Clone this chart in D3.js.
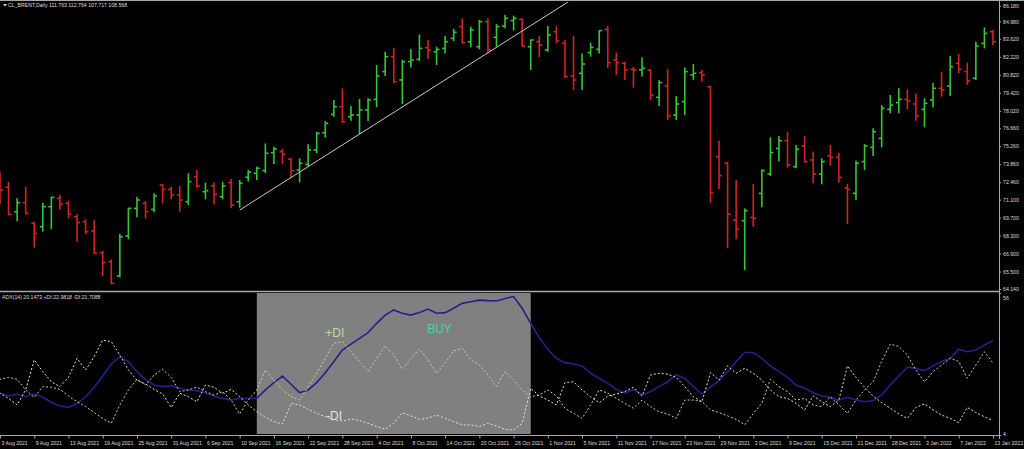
<!DOCTYPE html>
<html><head><meta charset="utf-8">
<script src="https://cdn.jsdelivr.net/npm/d3@7/dist/d3.min.js"></script>
<style>
html,body{margin:0;padding:0;background:#000;overflow:hidden;}
svg{display:block;}
text{font-family:"Liberation Sans",Arial,sans-serif;}
</style></head><body>
<svg id="c" width="1024" height="449"></svg>
<script>
// ---- data ----
const opens=[73.50,72.89,72.06,70.16,70.86,69.25,68.99,70.55,71.20,70.81,
69.77,69.38,68.66,66.97,66.27,65.15,68.27,70.42,70.81,70.34,
72.24,71.90,71.46,70.94,72.89,71.72,72.16,71.33,72.42,70.94,
72.84,73.15,73.36,74.76,74.83,74.24,73.41,73.85,74.96,76.31,
77.74,78.34,77.56,77.69,78.08,78.91,81.07,82.23,80.42,81.84,
82.03,82.93,82.62,82.88,83.66,84.57,83.40,83.01,84.96,83.74,
84.62,85.04,85.14,83.01,83.40,82.75,84.18,83.27,80.75,80.94,
82.55,82.80,84.36,81.97,81.71,81.25,81.20,81.20,79.07,79.95,
77.69,78.73,80.81,80.99,79.90,74.45,73.93,69.51,69.46,69.72,
71.59,73.10,75.09,75.69,73.67,75.28,74.19,73.10,74.50,74.40,
72.00,71.59,74.06,75.17,75.87,78.13,78.65,78.91,78.55,78.13,
78.86,79.77,79.95,81.71,81.07,80.55,83.27,84.18];
const highs=[73.90,73.28,72.50,71.20,72.11,69.38,70.86,71.33,71.46,71.02,
69.98,69.57,69.51,67.10,66.45,68.42,70.47,71.33,70.99,71.59,
72.32,72.11,72.16,73.15,73.41,72.42,72.45,72.50,72.71,72.63,
73.41,73.67,75.48,75.22,75.04,74.37,74.32,75.41,76.39,77.22,
78.86,79.77,78.39,78.94,78.99,81.58,82.62,82.93,81.97,82.83,
83.97,83.53,83.01,83.84,84.39,85.22,84.57,85.09,85.22,84.78,
85.48,85.43,85.22,83.58,83.84,84.62,84.62,83.53,83.84,82.49,
83.33,84.31,84.62,82.55,81.84,81.45,82.16,81.25,80.42,81.25,
79.17,81.40,81.66,81.20,79.95,75.69,74.06,72.63,70.42,72.32,
73.46,75.95,76.06,76.39,75.35,76.06,74.84,74.32,75.35,74.76,
72.32,74.13,75.43,76.65,78.47,79.25,79.77,79.69,79.38,78.99,
80.21,81.07,82.29,82.44,81.77,83.40,84.52,84.31];
const lows=[72.60,70.76,69.90,69.44,69.95,67.36,68.60,68.79,70.34,69.64,
67.83,68.42,66.86,65.15,64.50,65.05,68.03,69.72,69.62,70.11,
70.81,71.12,70.16,70.68,72.03,71.12,70.73,71.12,70.42,70.47,
72.50,72.63,73.15,73.87,73.87,72.76,72.45,73.67,74.71,75.93,
77.56,77.09,77.25,76.21,77.22,78.29,80.73,80.16,78.55,81.40,
81.90,82.05,81.58,82.49,83.45,83.27,82.96,82.80,82.49,83.01,
84.44,84.26,83.01,81.20,82.18,82.62,83.27,80.55,79.64,79.64,
82.23,82.49,81.33,80.81,80.42,79.82,80.68,78.86,78.39,77.30,
77.30,77.69,80.42,80.29,70.86,71.93,67.31,68.01,65.62,68.99,
70.50,72.94,74.06,73.59,73.54,73.98,72.37,72.29,73.75,72.42,
69.20,71.07,73.41,74.50,75.17,77.82,77.82,78.13,77.25,76.73,
78.29,79.12,79.17,80.94,80.03,80.42,82.88,83.14];
const closes=[73.00,71.85,69.95,70.86,70.03,68.47,70.55,71.28,70.76,69.98,
69.31,68.60,66.92,66.19,64.58,68.21,70.42,71.07,70.16,71.38,
71.90,71.46,71.07,72.50,72.16,71.80,71.54,72.16,70.68,72.37,
73.23,73.54,74.71,75.04,74.65,73.36,73.93,74.96,76.26,77.04,
78.34,77.17,77.69,78.08,78.86,80.73,82.23,80.29,81.84,81.97,
82.88,82.75,82.80,83.40,84.13,83.32,84.31,84.96,82.75,84.57,
85.22,85.22,83.06,83.53,83.14,83.92,83.48,80.68,80.42,81.66,
82.96,84.26,81.77,81.77,81.20,81.20,81.33,79.25,80.21,77.61,
78.55,81.07,80.94,80.81,71.64,72.97,69.98,68.79,70.24,69.64,
73.36,74.76,75.69,73.80,75.02,74.06,73.10,74.06,74.40,72.84,
71.90,73.93,75.28,76.39,78.21,78.47,78.91,78.78,77.61,78.60,
79.77,79.64,81.45,81.25,80.34,83.06,84.05,83.40];

const adx=[19.0,19.3,18.3,19.0,18.0,19.0,17.8,16.0,14.6,14.1,
15.6,18.0,21.5,25.6,30.0,32.7,30.9,27.2,24.4,22.3,
21.7,22.1,21.1,20.5,20.2,19.5,18.3,17.4,16.8,17.4,
17.4,17.4,20.5,23.2,25.6,22.6,19.5,20.5,23.2,26.8,
30.9,35.1,37.3,39.4,41.5,44.9,47.9,49.8,48.6,47.9,
48.9,50.1,48.6,48.8,50.4,52.2,52.8,53.4,53.2,53.1,
54.0,54.7,50.4,44.9,39.6,35.4,32.1,30.5,30.0,29.3,
26.6,24.8,22.9,20.7,19.3,20.7,18.6,19.9,21.7,23.5,
26.0,24.8,21.7,19.0,21.5,23.9,27.2,30.9,34.2,34.2,
32.1,29.3,27.2,25.1,22.3,21.1,19.5,18.3,17.8,16.8,
17.8,16.8,16.2,16.6,18.6,22.3,25.6,28.8,28.4,27.6,
29.3,30.9,32.1,35.4,34.5,35.1,37.0,38.5];
const plusDI=[24.1,24.4,25.1,24.4,20.5,17.8,21.7,21.5,20.7,18.3,
16.2,14.4,12.2,10.1,8.3,15.0,20.5,24.4,22.3,26.0,
28.1,25.1,19.9,20.5,21.5,19.9,18.6,19.9,16.8,11.7,
16.8,20.5,27.8,24.1,20.5,18.0,16.8,21.7,26.6,32.1,
37.6,38.2,34.5,30.9,27.2,32.1,36.6,33.3,28.1,32.1,
35.4,31.5,26.6,30.3,34.8,35.7,31.5,29.6,26.0,21.7,
27.2,24.1,20.5,18.0,18.6,20.5,18.3,13.8,11.9,10.1,
15.0,20.5,19.3,17.4,15.6,13.8,16.8,14.4,12.5,11.7,
10.1,16.8,16.8,16.2,13.2,12.2,11.0,9.7,7.7,11.9,
15.6,24.4,21.7,19.9,16.8,17.4,15.0,14.4,18.0,15.0,
11.9,16.8,20.5,23.5,30.9,37.3,36.4,33.3,27.8,23.5,
27.2,29.6,32.1,30.9,24.8,29.6,34.5,30.3];
const minusDI=[20.5,19.3,17.4,15.0,20.5,31.5,27.2,23.5,21.7,25.1,
32.1,27.8,32.7,38.8,38.2,33.3,27.8,24.1,22.7,20.7,
19.0,14.1,19.3,18.0,16.2,22.3,21.5,19.3,20.7,18.0,
15.0,12.5,10.5,8.9,8.0,15.6,15.0,13.4,11.9,10.7,
9.5,9.1,9.9,9.3,8.3,7.1,6.1,8.3,12.2,11.0,
9.7,10.2,11.3,10.1,8.9,7.7,7.7,7.1,8.3,7.3,
6.1,5.8,8.3,21.1,18.3,16.8,15.0,23.2,23.5,20.5,
18.0,15.8,18.3,19.0,19.9,21.5,18.3,26.0,26.6,26.3,
25.1,21.7,18.0,16.2,26.8,24.1,29.3,26.6,28.4,26.6,
24.1,20.5,18.0,17.4,15.6,13.2,18.3,16.2,14.4,16.8,
29.3,25.1,21.5,18.3,15.8,13.8,11.7,10.1,14.1,15.4,
13.2,11.3,10.1,8.5,14.1,12.2,10.7,9.3];

const priceTicks=[86.180,84.980,83.620,82.220,80.820,79.420,78.020,76.660,75.260,73.860,72.460,71.100,69.700,68.300,66.900,65.500,64.140];
const indTicks=[56,4];
const dateLabels=["3 Aug 2021","9 Aug 2021","13 Aug 2021","19 Aug 2021","25 Aug 2021","31 Aug 2021","6 Sep 2021","10 Sep 2021","16 Sep 2021","22 Sep 2021","28 Sep 2021","4 Oct 2021","8 Oct 2021","14 Oct 2021","20 Oct 2021","26 Oct 2021","1 Nov 2021","5 Nov 2021","11 Nov 2021","17 Nov 2021","23 Nov 2021","29 Nov 2021","3 Dec 2021","9 Dec 2021","15 Dec 2021","21 Dec 2021","28 Dec 2021","3 Jan 2022","7 Jan 2022","13 Jan 2022"];
const trendAnchors=[[29,70.29],[58,82.54]];
const highlightBars=[31,63];
const notes=[{t:"+DI",bar:39.0,v:41.0,c:"#b8dca0"},{t:"BUY",bar:50.9,v:42.5,c:"#3fd9a0"},{t:"-DI",bar:39.1,v:10.6,c:"#f4dede"}];
const headerText="CL_BRENT,Daily  111.763 112.764 107.717 108.568";
const indHeader="ADX(14) 20.1473 +DI:22.9818 -DI:21.7088";

// ---- layout ----
const W=1024,H=449,axisX=999;
const mainTop=2,mainBot=290,indTop=293,indBot=435;
const n=opens.length;
const x=d3.scaleLinear().domain([0,n-1]).range([-8.56,-8.56+8.56*(n-1)]);
const y=d3.scaleLinear().domain([64.14,86.18]).range([289,6]);
const yi=d3.scaleLinear().domain([4,56]).range([435,293]);

const svg=d3.select("#c");
svg.append("rect").attr("width",W).attr("height",H).attr("fill","#000");
const defs=svg.append("defs");
defs.append("clipPath").attr("id","cm").append("rect").attr("x",0).attr("y",mainTop).attr("width",axisX).attr("height",mainBot-mainTop);
defs.append("clipPath").attr("id","ci").append("rect").attr("x",0).attr("y",indTop).attr("width",axisX).attr("height",indBot-indTop);

// main panel
const gm=svg.append("g").attr("clip-path","url(#cm)");
const idx=d3.range(n);
const col=i=>closes[i]>=opens[i]?"#34c634":"#d42222";
const bars=gm.append("g").selectAll("g").data(idx).join("g").attr("stroke",col).attr("stroke-width",1.6);
bars.append("line").attr("x1",i=>x(i)).attr("x2",i=>x(i)).attr("y1",i=>y(highs[i])).attr("y2",i=>y(lows[i]));
bars.append("line").attr("x1",i=>x(i)-3).attr("x2",i=>x(i)).attr("y1",i=>y(opens[i])).attr("y2",i=>y(opens[i]));
bars.append("line").attr("x1",i=>x(i)).attr("x2",i=>x(i)+3).attr("y1",i=>y(closes[i])).attr("y2",i=>y(closes[i]));

// trend line (ray)
{
  const [a,b]=trendAnchors;
  const slope=(b[1]-a[1])/(b[0]-a[0]);
  const endBar=a[0]+ (86.6-a[1])/slope;
  gm.append("line").attr("x1",x(a[0])).attr("y1",y(a[1])).attr("x2",x(endBar)).attr("y2",y(86.6))
    .attr("stroke","#c8c8c8").attr("stroke-width",1);
}

// indicator panel
const gi=svg.append("g").attr("clip-path","url(#ci)");
gi.append("rect").attr("x",x(highlightBars[0])).attr("y",indTop).attr("width",x(highlightBars[1])-x(highlightBars[0])).attr("height",indBot-indTop-1).attr("fill","#808080");
const ln=arr=>d3.line().x((d,i)=>x(i)).y(d=>yi(d))(arr);
gi.append("path").attr("d",ln(adx)).attr("fill","none").attr("stroke","#22228c").attr("stroke-width",1.6);
gi.append("path").attr("d",ln(plusDI)).attr("fill","none").attr("stroke","#cfcf96").attr("stroke-width",1).attr("stroke-dasharray","2,2");
gi.append("path").attr("d",ln(minusDI)).attr("fill","none").attr("stroke","#ece0cc").attr("stroke-width",1).attr("stroke-dasharray","2,2");
gi.selectAll("text.note").data(notes).join("text").attr("class","note")
  .attr("x",d=>x(d.bar)).attr("y",d=>yi(d.v)).attr("dominant-baseline","middle")
  .attr("fill",d=>d.c).attr("font-size",12).text(d=>d.t);

// frame lines
const fr=svg.append("g").attr("stroke","#a8a8a8");
fr.append("line").attr("x1",0).attr("x2",W).attr("y1",0.5).attr("y2",0.5);
fr.append("line").attr("x1",0).attr("x2",axisX).attr("y1",291.5).attr("y2",291.5).attr("stroke-width",1.6);
fr.append("line").attr("x1",0).attr("x2",axisX).attr("y1",435.5).attr("y2",435.5);
fr.append("line").attr("x1",axisX+0.5).attr("x2",axisX+0.5).attr("y1",0).attr("y2",439);

// axes
const fs=5.2, tc="#dcdcdc";
const pa=svg.append("g").attr("transform",`translate(${axisX},0)`)
  .call(d3.axisRight(y).tickValues(priceTicks).tickSize(2).tickPadding(2).tickFormat(d3.format(".3f")));
const ia=svg.append("g").attr("transform",`translate(${axisX},0)`)
  .call(d3.axisRight(yi).tickValues(indTicks).tickSize(2).tickPadding(2).tickFormat(d3.format("d")));
ia.selectAll(".tick text").attr("dy",d=>d===56?"1.3em":"0.1em");
const da=svg.append("g").attr("transform",`translate(0,${indBot+0.5})`)
  .call(d3.axisBottom(x).tickValues(dateLabels.map((d,k)=>1+4*k)).tickSize(3).tickPadding(3).tickFormat((d,k)=>dateLabels[k]));
da.selectAll(".tick text").attr("text-anchor","start").attr("dx","1");
[pa,ia,da].forEach(g=>{
  g.select(".domain").remove();
  g.selectAll(".tick line").attr("stroke","#a8a8a8");
  g.selectAll(".tick text").attr("fill",tc).attr("font-size",fs).attr("font-family","Liberation Sans, Arial, sans-serif");
});

// headers
svg.append("path").attr("d","M3,4 L7,4 L5,6.5 Z").attr("fill","#dcdcdc");
svg.append("text").attr("x",8).attr("y",7).attr("fill",tc).attr("font-size",fs).text(headerText);
svg.append("text").attr("x",2).attr("y",299).attr("fill",tc).attr("font-size",fs).text(indHeader);
</script>
</body></html>
